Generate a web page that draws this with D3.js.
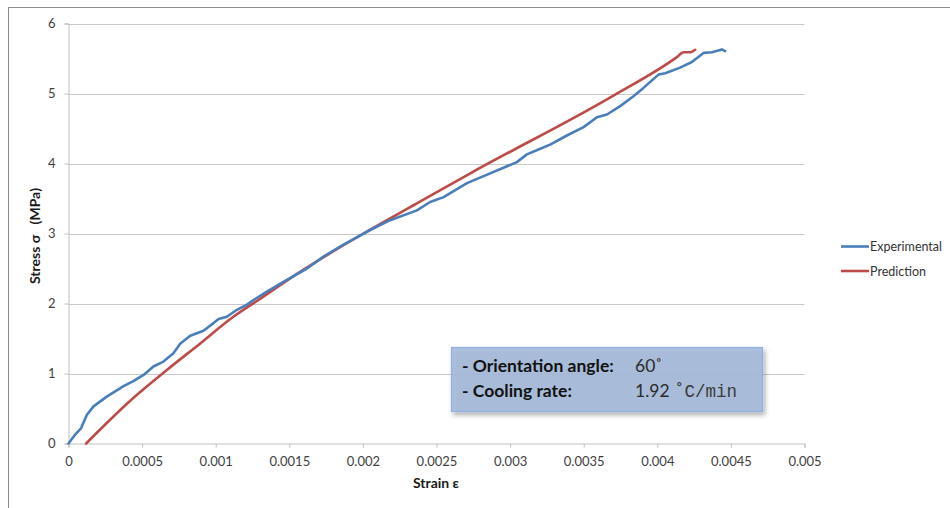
<!DOCTYPE html>
<html>
<head>
<meta charset="utf-8">
<script src="https://cdn.jsdelivr.net/npm/d3@7"></script>
<style>
  html, body { margin: 0; padding: 0; background: #fff; }
  svg { display: block; }
</style>
</head>
<body>
<svg id="chart" width="950" height="508"></svg>
<script>
// Measured stress–strain response, orientation 60°, cooling 1.92 °C/min
const experimentalStrain = [0, 0.0000455, 0.000086, 0.000125, 0.00017, 0.00026, 0.000374, 0.00044, 0.00051, 0.000577,
  0.000645, 0.000713, 0.00076, 0.000827, 0.000917, 0.000985, 0.00102, 0.001076, 0.001144, 0.00121,
  0.001257, 0.001348, 0.00146, 0.00162, 0.001732, 0.001868, 0.00205, 0.002185, 0.002367, 0.002457,
  0.002548, 0.002707, 0.00282, 0.002955, 0.003046, 0.003114, 0.003205, 0.003272, 0.003386, 0.003499,
  0.00359, 0.003658, 0.003748, 0.003838, 0.003906, 0.004008, 0.004054, 0.004155, 0.004235, 0.004314,
  0.004371, 0.004439, 0.004461];
const experimentalStress = [0, 0.128, 0.22, 0.41, 0.53, 0.67, 0.82, 0.89, 0.98, 1.10,
  1.17, 1.29, 1.43, 1.54, 1.61, 1.72, 1.78, 1.81, 1.91, 1.98,
  2.05, 2.17, 2.31, 2.50, 2.67, 2.84, 3.05, 3.19, 3.33, 3.45,
  3.52, 3.72, 3.82, 3.94, 4.02, 4.13, 4.21, 4.27, 4.40, 4.52,
  4.66, 4.70, 4.82, 4.96, 5.08, 5.27, 5.29, 5.37, 5.45, 5.58,
  5.59, 5.63, 5.605];

// Model prediction
const predictionStrain = [0.00012, 0.000215, 0.00044, 0.000668, 0.000895, 0.00112, 0.00129, 0.001506,
  0.002004, 0.002367, 0.00273, 0.003702, 0.004133, 0.004178, 0.004224, 0.004257];
const predictionStress = [0, 0.2, 0.65, 1.05, 1.43, 1.81, 2.05, 2.36,
  3.0, 3.43, 3.86, 4.97, 5.52, 5.59, 5.59, 5.625];

const xTicks = [0, 0.0005, 0.001, 0.0015, 0.002, 0.0025, 0.003, 0.0035, 0.004, 0.0045, 0.005];
const xTickLabels = ["0", "0.0005", "0.001", "0.0015", "0.002", "0.0025", "0.003", "0.0035", "0.004", "0.0045", "0.005"];
const yTicks = [0, 1, 2, 3, 4, 5, 6];

const seriesNames = ["Experimental", "Prediction"];
const seriesColors = ["#4a7ebb", "#be4b48"];

const svg = d3.select("#chart");
const font = "Lato, 'Open Sans', sans-serif";

// outer chart frame
svg.append("rect")
  .attr("x", 8.5).attr("y", 7.5)
  .attr("width", 960).attr("height", 520)
  .attr("fill", "#fff").attr("stroke", "#8c8c8c").attr("stroke-width", 1);

const x = d3.scaleLinear().domain([0, 0.005]).range([68.5, 804.5]);
const y = d3.scaleLinear().domain([0, 6]).range([443.5, 23.5]);

// horizontal gridlines
svg.append("g")
  .selectAll("line")
  .data(yTicks.filter(d => d > 0))
  .join("line")
  .attr("x1", x(0)).attr("x2", x(0.005))
  .attr("y1", d => Math.round(y(d)) + 0.5).attr("y2", d => Math.round(y(d)) + 0.5)
  .attr("stroke", "#c8c8c8").attr("stroke-width", 1.2);

// y axis
const yAxis = svg.append("g")
  .attr("transform", `translate(${x(0)},0)`)
  .call(d3.axisLeft(y).tickValues(yTicks).tickSize(4).tickPadding(9).tickFormat(d3.format("d")));
yAxis.select(".domain").attr("stroke", "#bfbfbf");
yAxis.selectAll(".tick line").attr("stroke", "#bfbfbf");
yAxis.selectAll("text").attr("font-family", font).attr("font-size", 13).attr("fill", "#404040");

// x axis
const xAxis = svg.append("g")
  .attr("transform", `translate(0,${y(0)})`)
  .call(d3.axisBottom(x).tickValues(xTicks).tickSize(4).tickPadding(9)
    .tickFormat((d, i) => xTickLabels[i]));
xAxis.select(".domain").attr("stroke", "#bfbfbf");
xAxis.selectAll(".tick line").attr("stroke", "#bfbfbf");
xAxis.selectAll("text").attr("font-family", font).attr("font-size", 13).attr("fill", "#404040");

// axis titles
svg.append("text")
  .attr("x", 436).attr("y", 488)
  .attr("text-anchor", "middle")
  .attr("font-family", font).attr("font-size", 14).attr("font-weight", "bold").attr("fill", "#1a1a1a")
  .text("Strain ε");

svg.append("text")
  .attr("transform", "translate(40,236) rotate(-90)")
  .attr("text-anchor", "middle")
  .attr("font-family", font).attr("font-size", 14).attr("font-weight", "bold").attr("fill", "#1a1a1a")
  .attr("xml:space", "preserve")
  .text("Stress σ   (MPa)");

// series lines
const line = d3.line().x(d => x(d[0])).y(d => y(d[1]));
const expData = d3.zip(experimentalStrain, experimentalStress);
const predData = d3.zip(predictionStrain, predictionStress);

svg.append("path")
  .datum(predData)
  .attr("d", line.curve(d3.curveMonotoneX))
  .attr("fill", "none").attr("stroke", seriesColors[1])
  .attr("stroke-width", 2.6).attr("stroke-linejoin", "round").attr("stroke-linecap", "round");

svg.append("path")
  .datum(expData)
  .attr("d", line.curve(d3.curveLinear))
  .attr("fill", "none").attr("stroke", seriesColors[0])
  .attr("stroke-width", 2.6).attr("stroke-linejoin", "round").attr("stroke-linecap", "round");

// legend
const legend = svg.append("g");
seriesNames.forEach((name, i) => {
  const ly = 246.5 + i * 24.5;
  legend.append("line")
    .attr("x1", 841).attr("x2", 869).attr("y1", ly).attr("y2", ly)
    .attr("stroke", seriesColors[i]).attr("stroke-width", 2.6);
  legend.append("text")
    .attr("x", 870).attr("y", ly + 4.5)
    .attr("font-family", font).attr("font-size", 12.5).attr("fill", "#333")
    .text(name);
});

// annotation box with test conditions
const defs = svg.append("defs");
const f = defs.append("filter").attr("id", "shadow").attr("x", "-10%").attr("y", "-20%").attr("width", "130%").attr("height", "160%");
f.append("feDropShadow").attr("dx", 2).attr("dy", 3).attr("stdDeviation", 2.5)
  .attr("flood-color", "#000").attr("flood-opacity", 0.35);

svg.append("rect")
  .attr("x", 451.5).attr("y", 347.5).attr("width", 311).attr("height", 64)
  .attr("fill", "#a3b8da").attr("fill-opacity", 0.88)
  .attr("stroke", "#8fb0e0").attr("stroke-width", 1.2)
  .attr("filter", "url(#shadow)");

const note = svg.append("g").attr("font-family", font).attr("font-size", 17.5);
note.append("text").attr("x", 462).attr("y", 372)
  .attr("font-weight", "bold").attr("fill", "#111").text("- Orientation angle:");
note.append("text").attr("x", 462).attr("y", 397)
  .attr("font-weight", "bold").attr("fill", "#111").text("- Cooling rate:");
note.append("text").attr("x", 635).attr("y", 372).attr("fill", "#2a2a2a").text("60˚");
const rate = note.append("text").attr("x", 635).attr("y", 397).attr("fill", "#2a2a2a");
rate.append("tspan").text("1.92 ");
rate.append("tspan").attr("font-family", "'Liberation Mono', 'DejaVu Sans Mono', monospace")
  .attr("font-size", 17.5).attr("fill", "#3a3a3a").text("˚C/min");
</script>
</body>
</html>
